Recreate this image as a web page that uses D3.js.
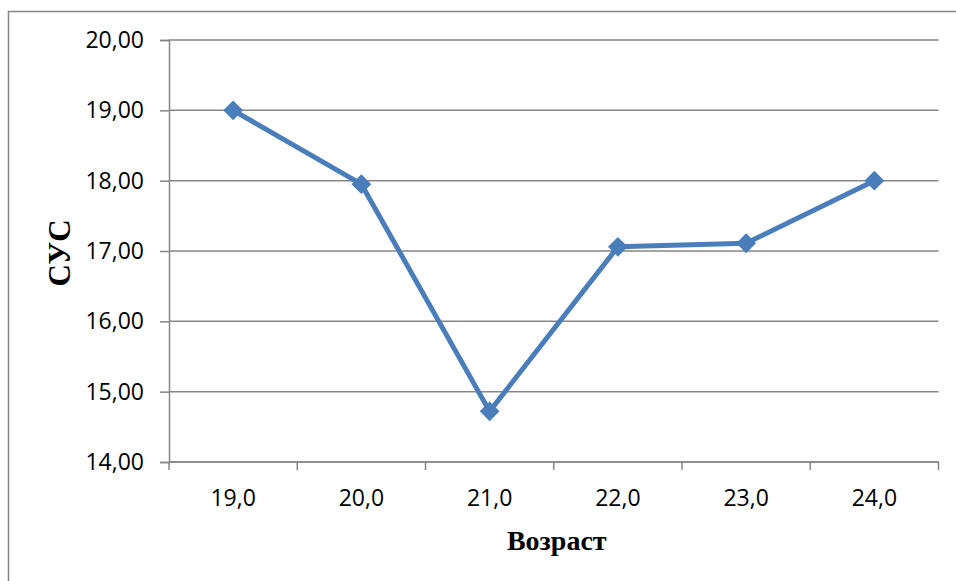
<!DOCTYPE html>
<html>
<head>
<meta charset="utf-8">
<script src="https://cdnjs.cloudflare.com/ajax/libs/d3/7.8.5/d3.min.js"></script>
<style>
  html, body { margin: 0; padding: 0; background: #fff; }
  svg { display: block; }
</style>
</head>
<body>
<div id="chart"></div>
<script>
// ---DATA---//
var ages = ["19,0", "20,0", "21,0", "22,0", "23,0", "24,0"];
var sus = [19.00, 17.95, 14.72, 17.06, 17.11, 18.00];
var yTicks = [14, 15, 16, 17, 18, 19, 20];

// ---LAYOUT---//
var width = 956, height = 581;
var plot = { left: 169, right: 938.5, top: 40, bottom: 462 };
var gridColor = "#868686";
var lineColor = "#4a7ebb";

var svg = d3.select("#chart").append("svg")
  .attr("width", width).attr("height", height);

// outer chart frame (cut off at right and bottom)
svg.append("rect")
  .attr("x", 8.5).attr("y", 11.5)
  .attr("width", 1000).attr("height", 600)
  .attr("fill", "none").attr("stroke", gridColor).attr("stroke-width", 1.5);

var x = d3.scaleBand().domain(ages).range([plot.left, plot.right]);
var y = d3.scaleLinear().domain([14, 20]).range([plot.bottom, plot.top]);

// gridlines
svg.append("g").selectAll("line").data(yTicks).enter().append("line")
  .attr("x1", plot.left).attr("x2", plot.right)
  .attr("y1", function(d) { return y(d); })
  .attr("y2", function(d) { return y(d); })
  .attr("stroke", gridColor).attr("stroke-width", 1.5);

// y axis
var yAxis = d3.axisLeft(y).tickValues(yTicks).tickSize(9).tickPadding(16)
  .tickFormat(function(d) { return d3.format(".2f")(d).replace(".", ","); });
var gy = svg.append("g").attr("transform", "translate(" + plot.left + ",0)").call(yAxis);
gy.select(".domain").attr("stroke", gridColor).attr("stroke-width", 1.5);
gy.selectAll(".tick line").attr("stroke", gridColor).attr("stroke-width", 1.5);
gy.selectAll(".tick text")
  .attr("font-family", "'Open Sans', sans-serif").attr("font-size", 23)
  .attr("fill", "#000");

// x axis: ticks at band edges, labels at band centres
var gx = svg.append("g").attr("transform", "translate(0," + plot.bottom + ")");
gx.append("line").attr("x1", plot.left).attr("x2", plot.right)
  .attr("stroke", gridColor).attr("stroke-width", 1.5);
var edges = ages.map(function(d) { return x(d); }).concat([plot.right]);
gx.selectAll(".edge").data(edges).enter().append("line")
  .attr("class", "edge")
  .attr("x1", function(d) { return d; }).attr("x2", function(d) { return d; })
  .attr("y1", 0).attr("y2", 8)
  .attr("stroke", gridColor).attr("stroke-width", 1.5);
gx.selectAll(".lbl").data(ages).enter().append("text")
  .attr("class", "lbl")
  .attr("x", function(d) { return x(d) + x.bandwidth() / 2; })
  .attr("y", 44)
  .attr("text-anchor", "middle")
  .attr("font-family", "'Open Sans', sans-serif").attr("font-size", 23)
  .attr("fill", "#000")
  .text(function(d) { return d; });

// axis titles
svg.append("text")
  .attr("x", (plot.left + plot.right) / 2 + 3).attr("y", 550)
  .attr("text-anchor", "middle")
  .attr("font-family", "'Liberation Serif', 'Times New Roman', serif")
  .attr("font-weight", "bold").attr("font-size", 28)
  .text("Возраст");

svg.append("text")
  .attr("transform", "translate(70," + ((plot.top + plot.bottom) / 2 + 2) + ") rotate(-90)")
  .attr("text-anchor", "middle")
  .attr("font-family", "'Liberation Serif', 'Times New Roman', serif")
  .attr("font-weight", "bold").attr("font-size", 31)
  .text("СУС");

// ---SERIES---//
var line = d3.line()
  .x(function(d, i) { return x(ages[i]) + x.bandwidth() / 2; })
  .y(function(d) { return y(d); });

svg.append("path").datum(sus)
  .attr("d", line)
  .attr("fill", "none").attr("stroke", lineColor).attr("stroke-width", 5)
  .attr("stroke-linejoin", "round");

svg.append("g").selectAll("path").data(sus).enter().append("path")
  .attr("d", d3.symbol().type(d3.symbolDiamond2).size(250))
  .attr("transform", function(d, i) {
    return "translate(" + (x(ages[i]) + x.bandwidth() / 2) + "," + y(d) + ")";
  })
  .attr("fill", lineColor);
</script>
</body>
</html>
